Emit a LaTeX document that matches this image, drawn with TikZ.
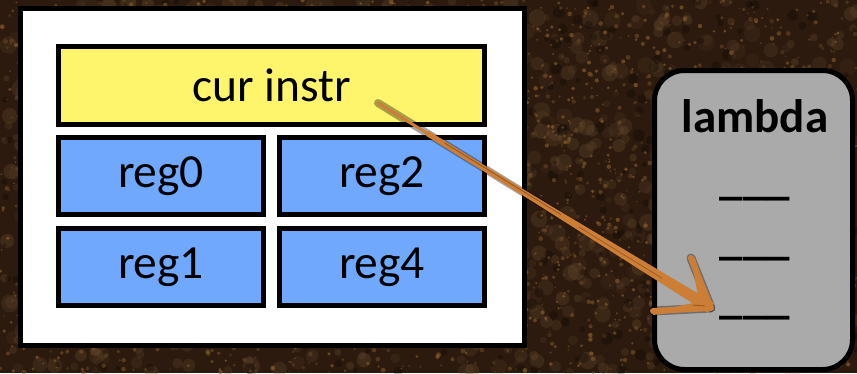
\documentclass[tikz,border=0pt]{standalone}
\usepackage{fontspec}
\setmainfont{Carlito}
\usetikzlibrary{calc}
\definecolor{bgbrown}{RGB}{44,26,14}
\definecolor{speck}{RGB}{140,95,45}
\definecolor{speckB}{RGB}{105,78,48}
\definecolor{boxyellow}{RGB}{255,245,108}
\definecolor{boxblue}{RGB}{111,168,252}
\definecolor{lamgray}{RGB}{170,170,170}
\definecolor{arroworange}{RGB}{204,126,54}
\definecolor{arrowdark}{RGB}{150,85,30}
\tikzset{
  cell/.style={draw=black, line width=5pt, inner sep=0pt, font=\fontsize{47.5}{56}\selectfont},
  regcell/.style={cell, fill=boxblue, minimum width=205pt, minimum height=77pt},
  slot/.style={font=\bfseries\fontsize{47}{56}\selectfont, inner sep=0pt, anchor=base},
  brush/.style={arroworange, line cap=round, line join=round},
}
\begin{document}
\begin{tikzpicture}[x=1pt,y=-1pt]
  % background
  \fill[bgbrown] (0,0) rectangle (857,373);
  \useasboundingbox (0,0) rectangle (857,373);
  \pgfmathsetseed{7}
  \foreach \i in {1,...,900}{
    \pgfmathsetmacro{\px}{428.5+428.5*rand}
    \pgfmathsetmacro{\py}{186.5+186.5*rand}
    \pgfmathsetmacro{\pr}{3+6*rnd}
    \pgfmathsetmacro{\po}{0.12+0.22*rnd}
    \fill[speckB, opacity=\po] (\px,\py) circle[radius=\pr];
  }
  \foreach \i in {1,...,400}{
    \pgfmathsetmacro{\px}{428.5+428.5*rand}
    \pgfmathsetmacro{\py}{186.5+186.5*rand}
    \pgfmathsetmacro{\pr}{2+4*rnd}
    \fill[black, opacity=0.25] (\px,\py) circle[radius=\pr];
  }
  \foreach \i in {1,...,2400}{
    \pgfmathsetmacro{\px}{428.5+428.5*rand}
    \pgfmathsetmacro{\py}{186.5+186.5*rand}
    \pgfmathsetmacro{\pr}{0.8+1.6*rnd}
    \pgfmathsetmacro{\po}{0.25+0.45*rnd}
    \fill[speck, opacity=\po] (\px,\py) circle[radius=\pr];
  }

  % white frame
  \node[draw=black, line width=5pt, fill=white, minimum width=504pt, minimum height=337pt, inner sep=0pt] (frame) at (272.5,177) {};

  % cells
  \node[cell, fill=boxyellow, minimum width=426pt, minimum height=78pt] (cur) at (271.5,85.5) {cur instr};
  \node[regcell] (reg0) at (161,176) {reg0};
  \node[regcell] (reg2) at (382,176) {reg2};
  \node[regcell] (reg1) at (161,267) {reg1};
  \node[regcell] (reg4) at (382,267) {reg4};

  % lambda box
  \node[draw=black, line width=5pt, fill=lamgray, rounded corners=30pt, minimum width=198pt, minimum height=299pt, inner sep=0pt] (lam) at (753.5,220) {};
  \node[slot] (title) at (755,132) {lambda};
  \node[slot] (u1) at (755,194) {\_\_\_};
  \node[slot] (u2) at (755,254) {\_\_\_};
  \node[slot] (u3) at (755,313) {\_\_\_};

  % arrow
  \coordinate (astart) at (378,103);
  \coordinate (tip) at (711,308);
  \coordinate (barbA) at (691,258);
  \coordinate (barbB) at (653,311);
  \begin{scope}[shift={(4,5)}, black, opacity=0.35, line cap=round, line join=round]
    \draw[line width=8pt] (astart) -- (tip);
    \draw[line width=9pt] (barbA) -- (tip) -- (barbB);
  \end{scope}
  \draw[brush, line width=3pt] (astart) -- ($(astart)!0.3!(tip)$);
  \fill[arroworange] (astart) -- ($(tip)+(-3,5)$) -- ($(tip)+(3,-5)$) -- cycle;
  \draw[brush, line width=5.5pt] ($(astart)!0.15!(tip)$) -- (tip);
  \draw[arrowdark, line width=0.8pt] ($(astart)!0.2!(tip)+(0,-1)$) -- ($(astart)!0.55!(tip)+(0,-1)$);
  \draw[arrowdark, line width=0.6pt] ($(astart)!0.6!(tip)+(1,1)$) -- ($(astart)!0.85!(tip)+(1,1)$);
  \fill[arroworange] (barbA) -- ($(barbA)+(4,0)$) -- (tip) -- ($(barbB)+(0,4)$) -- (barbB) -- ($(tip)+(-12,-6)$) -- cycle;
  \draw[brush, line width=6pt] (barbA) -- (tip) -- (barbB);
  \draw[arrowdark, line width=0.8pt] ($(tip)+(-18,-3)$) -- ($(tip)+(-6,-2)$);
\end{tikzpicture}
\end{document}
